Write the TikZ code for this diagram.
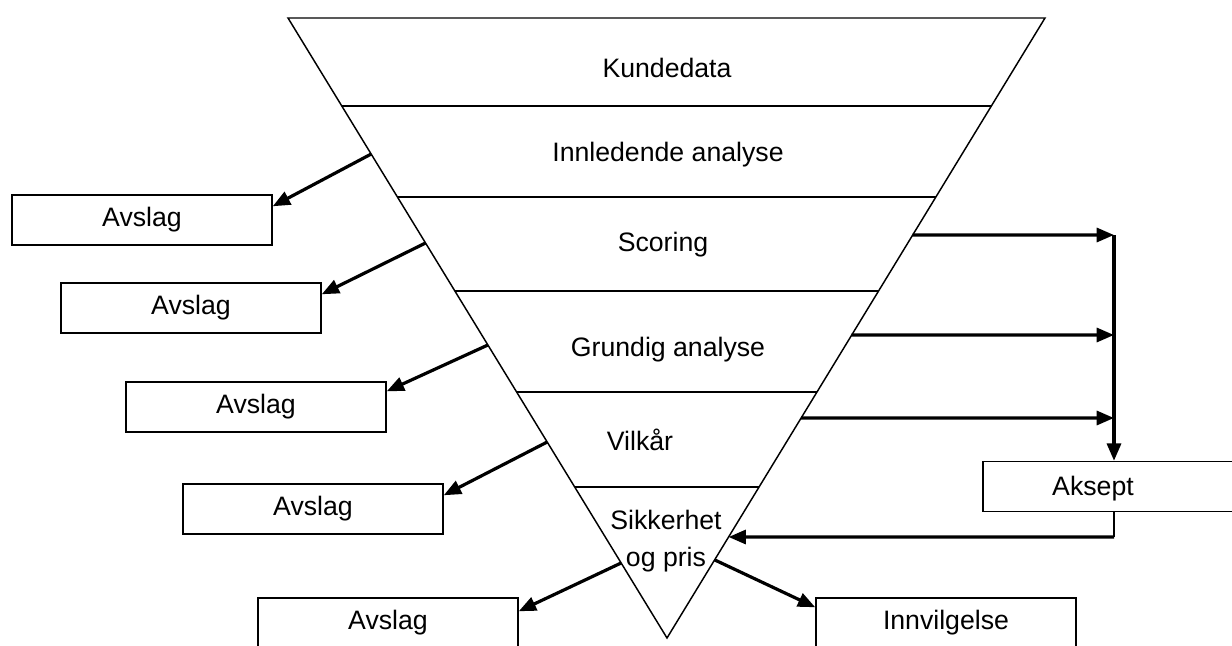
\documentclass[tikz,border=0pt]{standalone}
\usepackage{fontspec}
\setmainfont{Liberation Sans}
\usetikzlibrary{arrows.meta,calc}
\begin{document}
\begin{tikzpicture}[x=0.75pt,y=-0.75pt,
  every node/.style={font=\fontsize{20}{28}\selectfont},
  thinline/.style={line width=1.1pt,draw=black},
  boxnode/.style={draw=black,line width=1.1pt,rectangle,minimum width=195pt,minimum height=37.5pt,inner sep=0pt},
  lbl/.style={inner sep=0pt,align=center},
  thickarrow/.style={line width=2.4pt,-{Triangle[length=13pt,width=10.5pt]}},
  thickline/.style={line width=2.4pt}
]
\useasboundingbox (0,0) rectangle (1232,646);
\clip (0,0) rectangle (1232,646);
% triangle
\coordinate (T1) at (288,18);
\coordinate (T2) at (1045,18);
\coordinate (T3) at (667,638);
\draw[thinline,line join=miter] (T1) -- (T2) -- (T3) -- cycle;
\foreach \t in {0.1419,0.2887,0.4403,0.6032,0.7565}{
  \draw[thinline] ($(T1)!\t!(T3)$) -- ($(T2)!\t!(T3)$);
}
% row labels
\node[lbl] (kd) at (667,68) {Kundedata};
\node[lbl] (ia) at (668,155) {Innledende analyse};
\node[lbl] (sc) at (663,245) {Scoring};
\node[lbl] (ga) at (668,350) {Grundig analyse};
\node[lbl] (vi) at (640,440) {Vilkår};
\node[lbl] (sp) at (666,541) {Sikkerhet\\og pris};
% left boxes
\node[boxnode] (b1) at (142,220) {Avslag};
\node[boxnode] (b2) at (191,308) {Avslag};
\node[boxnode] (b3) at (256,407) {Avslag};
\node[boxnode] (b4) at (313,509) {Avslag};
\node[boxnode] (b5) at (388,623) {Avslag};
\node[boxnode] (inn) at (946,623) {Innvilgelse};
\node[boxnode,minimum width=225pt] (aks) at (1133,486.5) {};
\node[lbl] (akst) at (1093,489) {Aksept};
% left arrows
\coordinate (l1) at ($(T1)!0.2194!(T3)$);
\coordinate (l2) at ($(T1)!0.3629!(T3)$);
\coordinate (l3) at ($(T1)!0.5274!(T3)$);
\coordinate (l4) at ($(T1)!0.6839!(T3)$);
\coordinate (l5) at ($(T1)!0.879!(T3)$);
\coordinate (r0) at ($(T2)!0.874!(T3)$);
\draw[thickarrow] (l1) -- ($(b1.north east)+(0,12)$);
\draw[thickarrow] (l2) -- ($(b2.north east)+(0,12)$);
\draw[thickarrow] (l3) -- ($(b3.north east)+(0,10)$);
\draw[thickarrow] (l4) -- ($(b4.north east)+(0,12)$);
\draw[thickarrow] (l5) -- ($(b5.north east)+(0,14)$);
\draw[thickarrow] (r0) -- ($(inn.north west)+(0,10)$);
% right arrows
\coordinate (r1) at ($(T2)!0.35!(T3)$);
\coordinate (r2) at ($(T2)!0.5113!(T3)$);
\coordinate (r3) at ($(T2)!0.6452!(T3)$);
\coordinate (v1) at (1114,235);
\coordinate (v2) at (1114,335);
\coordinate (v3) at (1114,418);
\draw[thickarrow] (r1) -- (v1);
\draw[thickarrow] (r2) -- (v2);
\draw[thickarrow] (r3) -- (v3);
\draw[thickarrow] (v1) -- (v1 |- aks.north);
% feedback
\coordinate (fb) at (1114,537);
\coordinate (r4) at ($(T2)!0.8371!(T3)$);
\draw[thinline] (fb |- aks.south) -- (fb);
\draw[thickarrow] (fb) -- (r4);
\end{tikzpicture}
\end{document}
